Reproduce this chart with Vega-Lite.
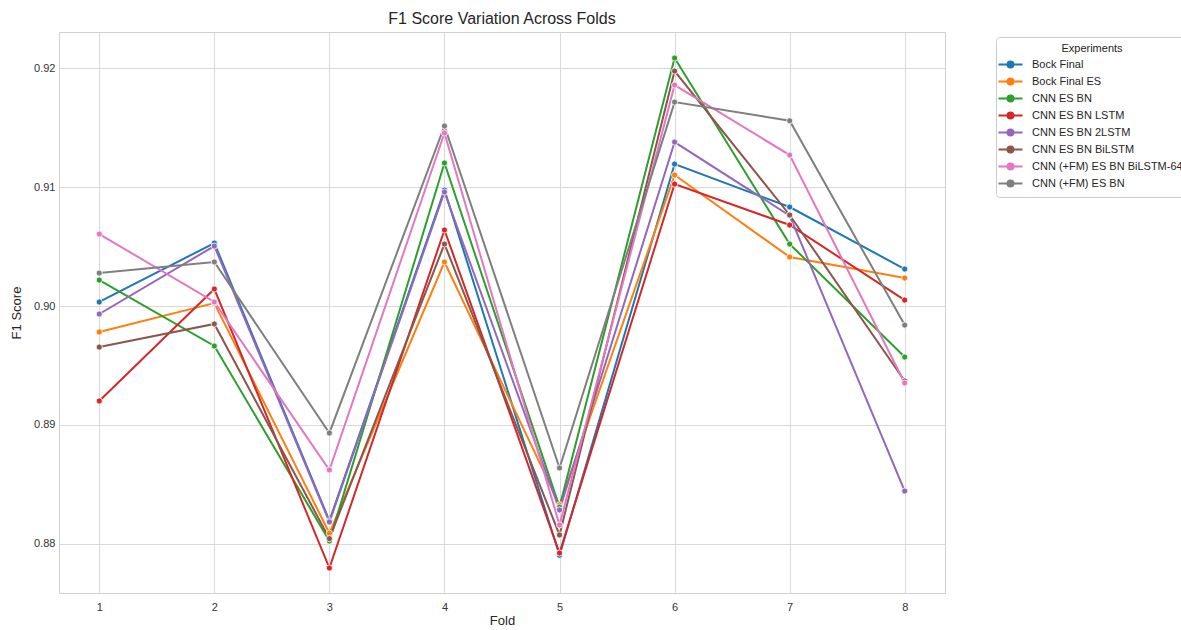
{
  "$schema": "https://vega.github.io/schema/vega-lite/v6.json",
  "autosize": {"type": "none"},
  "width": 886,
  "height": 561,
  "padding": {"left": 59, "top": 32, "right": 236, "bottom": 37},
  "background": "white",
  "title": {"text": "F1 Score Variation Across Folds", "font": "Liberation Sans", "fontSize": 16, "fontWeight": "normal", "color": "#262626", "anchor": "middle", "offset": 5},
  "config": {
    "font": "Liberation Sans",
    "view": {"stroke": "#d0d0d0", "strokeWidth": 1}
  },
  "data": {"values": [
    {"fold": 1, "exp": "Bock Final", "f1": 0.90034},
    {"fold": 2, "exp": "Bock Final", "f1": 0.90529},
    {"fold": 3, "exp": "Bock Final", "f1": 0.88195},
    {"fold": 4, "exp": "Bock Final", "f1": 0.90975},
    {"fold": 5, "exp": "Bock Final", "f1": 0.87905},
    {"fold": 6, "exp": "Bock Final", "f1": 0.91193},
    {"fold": 7, "exp": "Bock Final", "f1": 0.90832},
    {"fold": 8, "exp": "Bock Final", "f1": 0.90311},
    {"fold": 1, "exp": "Bock Final ES", "f1": 0.89782},
    {"fold": 2, "exp": "Bock Final ES", "f1": 0.90025},
    {"fold": 3, "exp": "Bock Final ES", "f1": 0.8809},
    {"fold": 4, "exp": "Bock Final ES", "f1": 0.9037},
    {"fold": 5, "exp": "Bock Final ES", "f1": 0.8833},
    {"fold": 6, "exp": "Bock Final ES", "f1": 0.91101},
    {"fold": 7, "exp": "Bock Final ES", "f1": 0.90412},
    {"fold": 8, "exp": "Bock Final ES", "f1": 0.90235},
    {"fold": 1, "exp": "CNN ES BN", "f1": 0.90218},
    {"fold": 2, "exp": "CNN ES BN", "f1": 0.89664},
    {"fold": 3, "exp": "CNN ES BN", "f1": 0.88025},
    {"fold": 4, "exp": "CNN ES BN", "f1": 0.91202},
    {"fold": 5, "exp": "CNN ES BN", "f1": 0.8831},
    {"fold": 6, "exp": "CNN ES BN", "f1": 0.92084},
    {"fold": 7, "exp": "CNN ES BN", "f1": 0.90521},
    {"fold": 8, "exp": "CNN ES BN", "f1": 0.89571},
    {"fold": 1, "exp": "CNN ES BN LSTM", "f1": 0.89202},
    {"fold": 2, "exp": "CNN ES BN LSTM", "f1": 0.90143},
    {"fold": 3, "exp": "CNN ES BN LSTM", "f1": 0.87798},
    {"fold": 4, "exp": "CNN ES BN LSTM", "f1": 0.90639},
    {"fold": 5, "exp": "CNN ES BN LSTM", "f1": 0.87924},
    {"fold": 6, "exp": "CNN ES BN LSTM", "f1": 0.91025},
    {"fold": 7, "exp": "CNN ES BN LSTM", "f1": 0.90681},
    {"fold": 8, "exp": "CNN ES BN LSTM", "f1": 0.9005},
    {"fold": 1, "exp": "CNN ES BN 2LSTM", "f1": 0.89933},
    {"fold": 2, "exp": "CNN ES BN 2LSTM", "f1": 0.90504},
    {"fold": 3, "exp": "CNN ES BN 2LSTM", "f1": 0.88185},
    {"fold": 4, "exp": "CNN ES BN 2LSTM", "f1": 0.90958},
    {"fold": 5, "exp": "CNN ES BN 2LSTM", "f1": 0.88286},
    {"fold": 6, "exp": "CNN ES BN 2LSTM", "f1": 0.91378},
    {"fold": 7, "exp": "CNN ES BN 2LSTM", "f1": 0.9076},
    {"fold": 8, "exp": "CNN ES BN 2LSTM", "f1": 0.88445},
    {"fold": 1, "exp": "CNN ES BN BiLSTM", "f1": 0.89655},
    {"fold": 2, "exp": "CNN ES BN BiLSTM", "f1": 0.89849},
    {"fold": 3, "exp": "CNN ES BN BiLSTM", "f1": 0.88045},
    {"fold": 4, "exp": "CNN ES BN BiLSTM", "f1": 0.90521},
    {"fold": 5, "exp": "CNN ES BN BiLSTM", "f1": 0.88076},
    {"fold": 6, "exp": "CNN ES BN BiLSTM", "f1": 0.91975},
    {"fold": 7, "exp": "CNN ES BN BiLSTM", "f1": 0.90765},
    {"fold": 8, "exp": "CNN ES BN BiLSTM", "f1": 0.8937},
    {"fold": 1, "exp": "CNN (+FM) ES BN BiLSTM-64", "f1": 0.90605},
    {"fold": 2, "exp": "CNN (+FM) ES BN BiLSTM-64", "f1": 0.90034},
    {"fold": 3, "exp": "CNN (+FM) ES BN BiLSTM-64", "f1": 0.88622},
    {"fold": 4, "exp": "CNN (+FM) ES BN BiLSTM-64", "f1": 0.91454},
    {"fold": 5, "exp": "CNN (+FM) ES BN BiLSTM-64", "f1": 0.8816},
    {"fold": 6, "exp": "CNN (+FM) ES BN BiLSTM-64", "f1": 0.91857},
    {"fold": 7, "exp": "CNN (+FM) ES BN BiLSTM-64", "f1": 0.91269},
    {"fold": 8, "exp": "CNN (+FM) ES BN BiLSTM-64", "f1": 0.89353},
    {"fold": 1, "exp": "CNN (+FM) ES BN", "f1": 0.90277},
    {"fold": 2, "exp": "CNN (+FM) ES BN", "f1": 0.9037},
    {"fold": 3, "exp": "CNN (+FM) ES BN", "f1": 0.88933},
    {"fold": 4, "exp": "CNN (+FM) ES BN", "f1": 0.91513},
    {"fold": 5, "exp": "CNN (+FM) ES BN", "f1": 0.88639},
    {"fold": 6, "exp": "CNN (+FM) ES BN", "f1": 0.91714},
    {"fold": 7, "exp": "CNN (+FM) ES BN", "f1": 0.91557},
    {"fold": 8, "exp": "CNN (+FM) ES BN", "f1": 0.8984}
  ]},
  "mark": {"type": "line", "strokeWidth": 2, "point": {"filled": true, "size": 38, "stroke": "white", "strokeWidth": 0.8}},
  "encoding": {
    "x": {"field": "fold", "type": "quantitative",
      "scale": {"domain": [0.65, 8.35], "nice": false, "zero": false},
      "axis": {"title": "Fold", "values": [1,2,3,4,5,6,7,8], "format": "d", "grid": true, "gridColor": "#d9d9d9", "domain": false, "ticks": false, "labelPadding": 8, "labelFontSize": 11, "labelColor": "#333333", "titleFontSize": 13, "titleFontWeight": "normal", "titleColor": "#262626", "titlePadding": 2}},
    "y": {"field": "f1", "type": "quantitative",
      "scale": {"domain": [0.87588, 0.92303], "nice": false, "zero": false},
      "axis": {"title": "F1 Score", "values": [0.88, 0.89, 0.90, 0.91, 0.92], "format": ".2f", "grid": true, "gridColor": "#d9d9d9", "domain": false, "ticks": false, "labelPadding": 4, "labelFontSize": 11, "labelColor": "#333333", "titleFontSize": 13, "titleFontWeight": "normal", "titleColor": "#262626", "titlePadding": 10}},
    "color": {"field": "exp", "type": "nominal",
      "scale": {"domain": ["Bock Final", "Bock Final ES", "CNN ES BN", "CNN ES BN LSTM", "CNN ES BN 2LSTM", "CNN ES BN BiLSTM", "CNN (+FM) ES BN BiLSTM-64", "CNN (+FM) ES BN"],
        "range": ["#1f77b4", "#ff7f0e", "#2ca02c", "#d62728", "#9467bd", "#8c564b", "#e377c2", "#7f7f7f"]},
      "legend": {"title": "Experiments", "orient": "none", "legendX": 937, "legendY": 5,
        "titleFontSize": 11, "titleFontWeight": "normal", "titleColor": "#262626", "titleAnchor": "middle", "titlePadding": 2,
        "labelFontSize": 11, "labelColor": "#262626", "labelOffset": 13, "rowPadding": 1.0,
        "symbolType": "M-1.6,0L-0.4,0M0.4,0L1.6,0M-0.4,0A0.4,0.4 0 1,0 0.4,0A0.4,0.4 0 1,0 -0.4,0",
        "symbolSize": 225, "symbolStrokeWidth": 2, "symbolFillColor": null,
        "strokeColor": "#cccccc", "cornerRadius": 3, "padding": 6, "fillColor": "white"}}
  }
}
